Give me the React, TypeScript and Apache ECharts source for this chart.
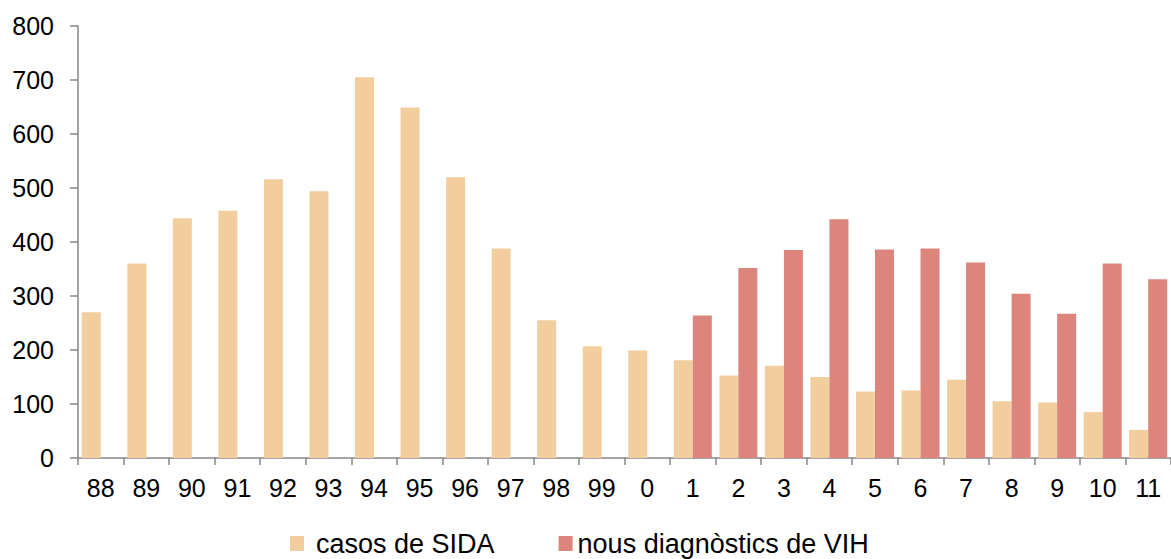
import React, { useEffect, useRef } from "react";
import * as echarts from "echarts";

const categories = ["88", "89", "90", "91", "92", "93", "94", "95", "96", "97", "98", "99", "0", "1", "2", "3", "4", "5", "6", "7", "8", "9", "10", "11"];
const casosSida = [270, 360, 444, 458, 516, 494, 705, 649, 520, 388, 255, 207, 199, 181, 153, 171, 150, 123, 125, 145, 105, 103, 85, 52];
const nousVih = [null, null, null, null, null, null, null, null, null, null, null, null, null, 264, 352, 385, 442, 386, 388, 362, 304, 267, 360, 331];
const yTicks = { min: 0, max: 800, interval: 100 };

const ORANGE = "#F2CE9E";
const RED = "#DD857C";
const AXIS = "#878787";
const FONT = "'Liberation Sans', Arial, sans-serif";

export default function App() {
  const ref = useRef<HTMLDivElement>(null);
  useEffect(() => {
    if (!ref.current) return;
    const chart = echarts.init(ref.current, null, { renderer: "svg" });
    chart.setOption({
      animation: false,
      backgroundColor: "#ffffff",
      textStyle: { fontFamily: FONT },
      grid: { left: 78, right: -11, top: 26, bottom: 101, containLabel: false },
      legend: {
        left: 290,
        top: 530,
        padding: 0,
        itemWidth: 14,
        itemHeight: 15,
        itemGap: 64,
        icon: "rect",
        textStyle: { fontSize: 27, lineHeight: 26, color: "#000", fontFamily: FONT },
        data: [
          { name: "casos de SIDA", textStyle: { padding: [0, 0, 0, 7] } },
          { name: "nous diagnòstics de VIH" },
        ],
      },
      xAxis: {
        type: "category",
        data: categories,
        boundaryGap: true,
        axisLine: { lineStyle: { color: AXIS, width: 1.5 } },
        axisTick: { show: true, length: 7, lineStyle: { color: AXIS, width: 1.5 } },
        axisLabel: { interval: 0, fontSize: 25, color: "#000", margin: 17, fontFamily: FONT },
        splitLine: { show: false },
      },
      yAxis: {
        type: "value",
        min: yTicks.min,
        max: yTicks.max,
        interval: yTicks.interval,
        axisLine: { show: true, lineStyle: { color: AXIS, width: 1.5 } },
        axisTick: { show: true, length: 8, lineStyle: { color: AXIS, width: 1.5 } },
        axisLabel: { fontSize: 25, color: "#000", margin: 24, fontFamily: FONT },
        splitLine: { show: false },
      },
      series: [
        {
          name: "casos de SIDA",
          type: "bar",
          data: casosSida,
          barWidth: 19,
          barGap: "0%",
          itemStyle: { color: ORANGE },
        },
        {
          name: "nous diagnòstics de VIH",
          type: "bar",
          data: nousVih,
          barWidth: 19,
          barGap: "0%",
          itemStyle: { color: RED },
        },
      ],
    });
    return () => chart.dispose();
  }, []);
  return (
    <div
      ref={ref}
      style={{ position: "fixed", left: 0, top: 0, width: 1171, height: 559, background: "#fff" }}
    />
  );
}
